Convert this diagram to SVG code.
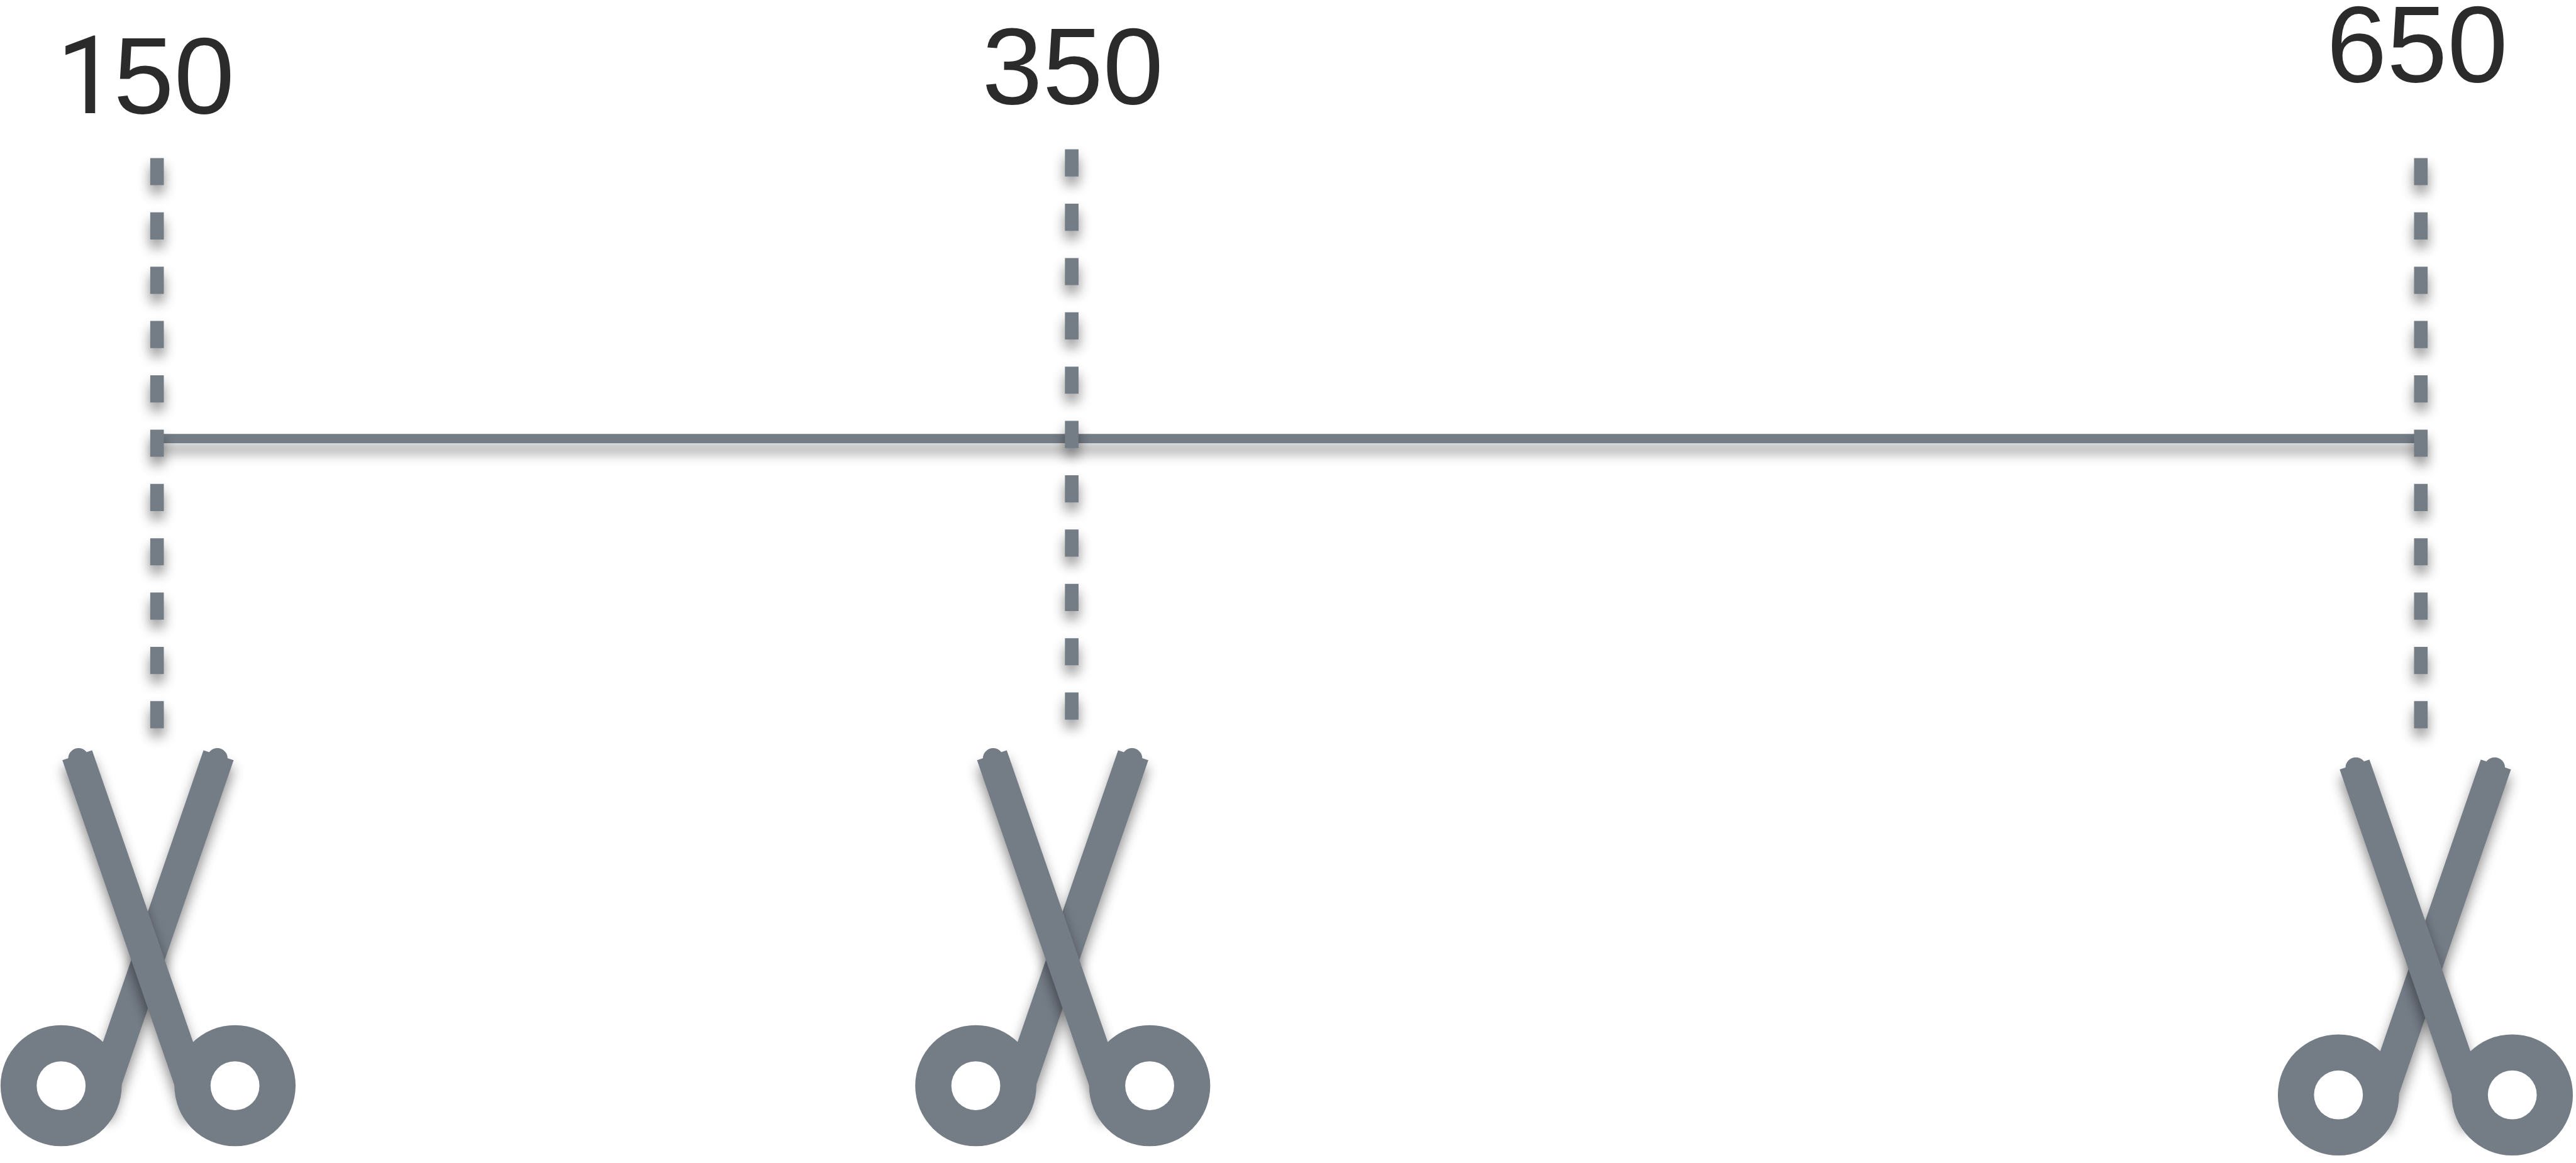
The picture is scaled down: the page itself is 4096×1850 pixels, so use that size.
<svg xmlns="http://www.w3.org/2000/svg" xmlns:xlink="http://www.w3.org/1999/xlink" width="4096" height="1850" viewBox="0 0 4096 1850">
<style>
.lbl{font-family:"Liberation Sans",Arial,sans-serif;font-size:200px;fill:#2b2b2b}
.one{font-family:Roboto,"Liberation Sans",sans-serif}
.g{fill:#747c86}
.dash{stroke:#747c86;stroke-width:25;stroke-dasharray:50 50;fill:none}
.rail{stroke:#747c86;stroke-width:17;fill:none}
.hole{fill:#fff}
</style>
<defs>
<filter id="sh" filterUnits="userSpaceOnUse" x="-100" y="-100" width="5000" height="2400" color-interpolation-filters="sRGB">
<feGaussianBlur in="SourceAlpha" stdDeviation="12"/>
<feOffset dy="15"/>
<feComponentTransfer><feFuncA type="linear" slope="0.45"/></feComponentTransfer>
<feMerge><feMergeNode/><feMergeNode in="SourceGraphic"/></feMerge>
</filter>
<filter id="shl" filterUnits="userSpaceOnUse" x="-100" y="-100" width="5000" height="2400" color-interpolation-filters="sRGB">
<feGaussianBlur in="SourceAlpha" stdDeviation="12"/>
<feOffset dy="18"/>
<feComponentTransfer><feFuncA type="linear" slope="0.38"/></feComponentTransfer>
<feMerge><feMergeNode/><feMergeNode in="SourceGraphic"/></feMerge>
</filter>
<g id="scissor">
<polygon class="g" filter="url(#sh)" points="374.5,1381.5 430,1399.8 205,2052 150,2033"/>
<circle class="g" cx="400" cy="1396.5" r="19"/>
<circle class="g" cx="112.5" cy="1999" r="111.5"/>
<polygon class="g" filter="url(#sh)" points="169.5,1381.5 114.8,1399.8 339.5,2052 395,2033"/>
<circle class="g" cx="144.5" cy="1396.5" r="19"/>
<circle class="g" cx="432.5" cy="1999" r="111.5"/>
<circle class="hole" cx="112.5" cy="1999" r="45"/>
<circle class="hole" cx="432.5" cy="1999" r="45"/>
</g>
</defs>
<rect width="4096" height="1850" fill="#fff"/>
<g transform="scale(0.86395)">
<g id="connectors">
<line class="rail" x1="289" y1="807.5" x2="4455" y2="807.5" filter="url(#shl)"/>
<line class="dash" x1="289" y1="291" x2="289" y2="1341" filter="url(#sh)"/>
<line class="dash" x1="1972.5" y1="275" x2="1972.5" y2="1325" filter="url(#sh)"/>
<line class="dash" x1="4455.5" y1="291" x2="4455.5" y2="1341" filter="url(#sh)"/>
</g>
<g id="scissors-150"><use href="#scissor" xlink:href="#scissor"/></g>
<g id="scissors-350"><use href="#scissor" xlink:href="#scissor" transform="translate(1683.4 0)"/></g>
<g id="scissors-650"><use href="#scissor" xlink:href="#scissor" transform="translate(4191.3 17)"/></g>
<g id="label-150"><text class="lbl" y="208"><tspan class="one" x="104">1</tspan><tspan x="209 320.2">50</tspan></text></g>
<g id="label-350"><text class="lbl" x="1807.5" y="191">350</text></g>
<g id="label-650"><text class="lbl" x="4281.8" y="150">650</text></g>
</g>
</svg>
